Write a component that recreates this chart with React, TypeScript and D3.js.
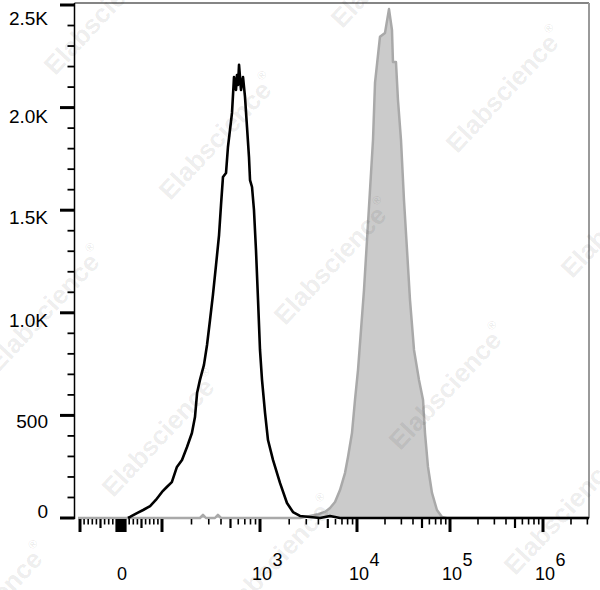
import React from "react";
import * as d3 from "d3";

// ---------- data ----------
const BLACK_X = [17,22,39,54,71,85,100,112,126,142,160,180,202,217,228,244,268,288,309,331,356,382,400,419,450,471,518,543,569,582,597,611,640,655,671,703,737,772,791,829,868,910,955,1000,1049,1127,1209,1361,1607,1897,2188,2583,3272,4155,5272,6680,3130000];
const BLACK_C = [0,5,24,39,58,88,127,151,175,249,283,346,414,492,609,673,746,843,965,1087,1233,1379,1525,1662,1681,1808,1974,2149,2086,2159,2110,2208,2086,2120,2149,2052,1905,1759,1647,1613,1501,1306,1062,819,673,512,380,283,171,73,29,10,5,0,10,0,0];

const GRAY_X = [-112,244,262,281,347,372,400,2583,3272,3963,4677,5272,5935,6680,7520,8075,8878,9534,10250,11040,11890,12810,13800,14860,15620,17660,20000,22080,23770,24360,26240,27580,29720,32000,34500,37150,41020,46400,51300,53840,57980,64000,72400,82000,92800,3130000];
const GRAY_C = [0,0,15,0,0,15,0,0,10,19,29,49,78,136,219,297,414,575,721,916,1111,1355,1598,1842,2120,2345,2364,2480,2378,2222,2222,2037,1842,1550,1306,1062,819,673,575,414,249,122,39,5,0,0];

const X_DECADES = [-100, 0, 100, 1e3, 1e4, 1e5, 1e6];
const X_MAJOR = [-100, -10, -5, 0, 5, 10, 100, 1e3, 1e4, 1e5, 1e6];
const X_MEDIUM = [-50, 50, 500, 5e3, 5e4, 5e5];
const X_MINOR = [-90,-80,-70,-60,-40,-30,-20,20,30,40,60,70,80,90,200,300,400,600,700,800,900,2e3,3e3,4e3,6e3,7e3,8e3,9e3,2e4,3e4,4e4,6e4,7e4,8e4,9e4,2e5,3e5,4e5,6e5,7e5,8e5,9e5,2e6,3e6];
const X_LABELS = [{ v: 0, base: "0", exp: "" }, { v: 1e3, base: "10", exp: "3" }, { v: 1e4, base: "10", exp: "4" }, { v: 1e5, base: "10", exp: "5" }, { v: 1e6, base: "10", exp: "6" }];

const Y_MAJOR = [0, 500, 1000, 1500, 2000, 2500];
const Y_LABELS = ["0", "500", "1.0K", "1.5K", "2.0K", "2.5K"];
const Y_LABEL_SHIFT = [0, 13, 14, 14, 15, 20];
const Y_MINOR = d3.range(100, 2500, 100).filter((v) => v % 500 !== 0);

const X_MIN = -112;
const X_MAX = 3130000;

// biexponential-like transform: linear within +-100, log beyond
const T = (x: number) => (Math.abs(x) <= 100 ? x / 100 : Math.sign(x) * (1 + Math.log10(Math.abs(x) / 100)));

const FONT = "'Liberation Sans', Arial, Helvetica, sans-serif";

export default function App() {
  const left = 74.5, right = 589, top = 3, bottom = 518;
  const xs = d3.scaleLinear().domain(X_DECADES.map(T)).range([80, 121, 162, 260, 357, 450, 543]);
  const x = (v: number) => xs(T(v));
  const y = d3.scaleLinear().domain([0, 2500]).range([bottom, 5]);

  const gray = GRAY_X.map((v, i) => [v, GRAY_C[i]] as [number, number]);
  const black = BLACK_X.map((v, i) => [v, BLACK_C[i]] as [number, number]);
  const line = d3.line<[number, number]>().x((d) => x(d[0])).y((d) => y(d[1]));
  const area = d3.area<[number, number]>().x((d) => x(d[0])).y0(y(0)).y1((d) => y(d[1]));

  // watermark lattice
  const marks: [number, number][] = [];
  for (let i = -2; i <= 4; i++) {
    for (let j = -2; j <= 3; j++) {
      const cx = 218 + 115 * i - 172 * j;
      const cy = 137 + 125 * i + 172 * j;
      if (cx > -120 && cx < 720 && cy > -100 && cy < 690) marks.push([cx, cy]);
    }
  }

  return (
    <svg width={600} height={590} style={{ position: "absolute", left: 0, top: 0, background: "#fff" }} fontFamily={FONT}>
      <rect x={0} y={0} width={600} height={590} fill="#fff" />
      {/* frame */}
      <line x1={left} x2={right} y1={top} y2={top} stroke="#858585" strokeWidth={2} />
      <line x1={right} x2={right} y1={top} y2={bottom} stroke="#9a9a9a" strokeWidth={2} />

      {/* gray histogram */}
      <path d={area(gray) || ""} fill="#cbcbcb" />
      <path d={line(gray) || ""} fill="none" stroke="#a9a9a9" strokeWidth={2.5} strokeLinejoin="round" />
      {/* black histogram */}
      <path d={line(black) || ""} fill="none" stroke="#000" strokeWidth={2.6} strokeLinejoin="round" />

      {/* y axis */}
      <line x1={left} x2={left} y1={top} y2={bottom + 1} stroke="#000" strokeWidth={1.5} />
      {Y_MAJOR.map((v) => (
        <line key={"ym" + v} x1={60} x2={left} y1={y(v)} y2={y(v)} stroke="#000" strokeWidth={3} />
      ))}
      {Y_MINOR.map((v) => (
        <line key={"yn" + v} x1={67.5} x2={left} y1={y(v)} y2={y(v)} stroke="#000" strokeWidth={1.8} />
      ))}
      {Y_MAJOR.map((v, i) => (
        <text key={"yl" + v} x={48} y={y(v) + Y_LABEL_SHIFT[i]} fontSize={19} textAnchor="end" fill="#000">
          {Y_LABELS[i]}
        </text>
      ))}

      {/* x axis ticks */}
      {X_MAJOR.map((v) => (
        <line key={"xm" + v} x1={x(v)} x2={x(v)} y1={519} y2={532} stroke="#000" strokeWidth={3} />
      ))}
      {X_MEDIUM.map((v) => (
        <line key={"xd" + v} x1={x(v)} x2={x(v)} y1={519} y2={528} stroke="#000" strokeWidth={2.2} />
      ))}
      {X_MINOR.map((v) => (
        <line key={"xn" + v} x1={x(v)} x2={x(v)} y1={519} y2={524.5} stroke="#000" strokeWidth={1.6} />
      ))}
      {X_LABELS.map((l) =>
        l.exp === "" ? (
          <text key={"xl" + l.v} x={x(l.v) + 1} y={580} fontSize={18} textAnchor="middle" fill="#000">
            {l.base}
          </text>
        ) : (
          <g key={"xl" + l.v}>
            <text x={x(l.v) + 2} y={580} fontSize={18} textAnchor="middle" fill="#000">
              {l.base}
            </text>
            <text x={x(l.v) + 12.5} y={566} fontSize={18} textAnchor="start" fill="#000">
              {l.exp}
            </text>
          </g>
        )
      )}

      {/* watermark */}
      {marks.map(([cx, cy], k) => (
        <text
          key={"wm" + k}
          x={0}
          y={0}
          transform={`translate(${cx},${cy}) rotate(-47)`}
          fontSize={26}
          fontWeight="bold"
          textAnchor="middle"
          dominantBaseline="central"
          fill="#000"
          fillOpacity={0.085}
        >
          Elabscience
          <tspan fontSize={12} dy={-10}>®</tspan>
        </text>
      ))}
    </svg>
  );
}
